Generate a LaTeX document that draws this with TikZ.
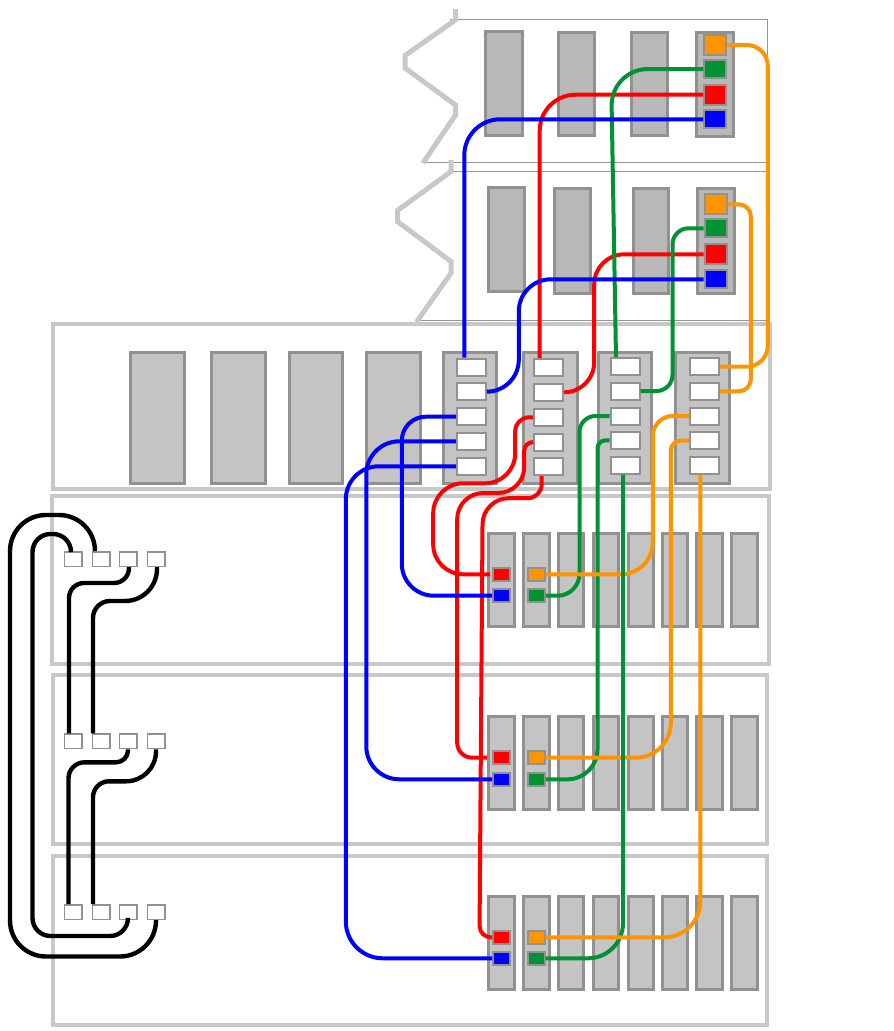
\documentclass[tikz,border=0pt]{standalone}
\usetikzlibrary{arrows.meta, positioning, calc}
\definecolor{panelgray}{RGB}{200,200,200}
\definecolor{edgegray}{RGB}{145,145,145}
\definecolor{slotdark}{RGB}{184,184,184}
\definecolor{slotlight}{RGB}{196,196,196}
\definecolor{hairgray}{RGB}{150,150,150}
\definecolor{wirered}{RGB}{255,0,0}
\definecolor{wireblue}{RGB}{0,0,255}
\definecolor{wiregreen}{RGB}{0,146,51}
\definecolor{wireorange}{RGB}{255,147,0}

\begin{document}
\begin{tikzpicture}[
    x=1pt, y=-1pt,
    panel/.style={rectangle, draw=panelgray, line width=4.5pt, inner sep=0pt},
    slotcard/.style={rectangle, draw=edgegray, fill=slotlight, line width=3pt, inner sep=0pt},
    topcard/.style={slotcard, fill=slotdark},
    whiteport/.style={rectangle, draw=edgegray, fill=white, line width=2pt, inner sep=0pt, minimum width=29pt, minimum height=17pt},
    jack/.style={rectangle, draw=edgegray, fill=white, line width=1.5pt, inner sep=0pt, minimum width=17.5pt, minimum height=14.5pt},
    bigport/.style={rectangle, draw=edgegray, line width=2pt, inner sep=0pt, minimum width=22pt},
    rowport/.style={rectangle, draw=edgegray, line width=2pt, inner sep=0pt, minimum width=17pt, minimum height=13.5pt},
    hair/.style={color=hairgray, line width=1pt},
    zigzag/.style={color=panelgray, line width=5pt},
    wire/.style={line width=4pt},
    redwire/.style={wire, color=wirered},
    bluewire/.style={wire, color=wireblue},
    greenwire/.style={wire, color=wiregreen},
    orangewire/.style={wire, color=wireorange},
    blackwire/.style={wire, line width=4.4pt, color=black}
]
\useasboundingbox (0,0) rectangle (894,1031);

% outlines of the two upper units
\draw[hair] (450,19.5) -- (767.5,19.5) -- (767.5,320.5) -- (416,320.5);
\draw[hair] (423,162.3) -- (767.5,162.3);
\draw[hair] (451,171.5) -- (767.5,171.5);
\draw[zigzag] (455.5,9) -- (455.5,20) -- (405,55.5) -- (405,68) -- (455.5,105) -- (455.5,115) -- (423,163);
\draw[zigzag] (451,160) -- (451,171.5) -- (397.5,210.5) -- (397.5,221.5) -- (451,261.5) -- (451,273) -- (416.5,322);

% panels
\node[panel, minimum width=717pt, minimum height=165pt] (panelmain) at (411.5,406.5) {};
\node[panel, minimum width=717pt, minimum height=168pt] (panelone) at (410.5,580) {};
\node[panel, minimum width=714pt, minimum height=169pt] (paneltwo) at (410,759.5) {};
\node[panel, minimum width=714pt, minimum height=169pt] (panelthree) at (410,940.5) {};

% cards of the upper units
\foreach \n/\x/\y/\w/\h in {ua/503.5/83/37/104, ub/576/84.4/36/103, uc/649/84.4/36/103, ud/714.5/84/37/104,
    va/506/239/36/104, vb/572/241.4/36/105, vc/650.5/241.4/35/105, vd/715.5/241.4/37/105} {
    \node[topcard, minimum width=\w pt, minimum height=\h pt] (card\n) at (\x,\y) {};
}
% cards of the main panel
\foreach \n/\x/\w in {a/157/54, b/238/54, c/315.5/53, d/393/54, e/469.5/53, f/550/54, g/624.5/53, h/702/54} {
    \node[slotcard, minimum width=\w pt, minimum height=131pt] (main\n) at (\x,417.5) {};
}
% cards of the lower rows
\foreach \r/\y in {1/580, 2/763.3, 3/943} {
    \foreach \s/\x/\w in {1/501.5/26.5, 2/536/26, 3/571/25.5, 4/606/25.5, 5/641/25.5, 6/675/25.5, 7/709.5/26.5, 8/744.5/26.5} {
        \node[slotcard, minimum width=\w pt, minimum height=93pt] (row\r card\s) at (\x,\y) {};
    }
}

% ports of the upper units
\foreach \n/\c/\y/\h in {orange/wireorange/45/20, green/wiregreen/69/18, red/wirered/94.7/20, blue/wireblue/119.3/18} {
    \node[bigport, fill=\c, minimum height=\h pt] (top\n) at (715,\y) {};
}
\foreach \n/\c/\y/\h in {orange/wireorange/204.3/20, green/wiregreen/228.3/18, red/wirered/254.3/20, blue/wireblue/279.3/18} {
    \node[bigport, fill=\c, minimum height=\h pt] (sec\n) at (715.5,\y) {};
}
% white ports of the main panel
\foreach \n/\x/\ya/\yb/\yc/\yd/\ye in {a/471.3/367/391.7/416.7/441.3/466.3, b/548.7/367.7/392.3/417.3/442/466.7,
    c/625/366.7/391/416/440.3/465, d/704.3/366.7/391.3/416/440.7/465.3} {
    \node[whiteport] (\n1) at (\x,\ya) {};
    \node[whiteport] (\n2) at (\x,\yb) {};
    \node[whiteport] (\n3) at (\x,\yc) {};
    \node[whiteport] (\n4) at (\x,\yd) {};
    \node[whiteport] (\n5) at (\x,\ye) {};
}
% ports of the lower rows
\foreach \r/\ya/\yb in {1/574.3/595.7, 2/757.7/779.3, 3/937.3/958.3} {
    \node[rowport, fill=wirered] (rowred\r) at (501.7,\ya) {};
    \node[rowport, fill=wireblue] (rowblue\r) at (501.7,\yb) {};
    \node[rowport, fill=wireorange] (roworange\r) at (536.2,\ya) {};
    \node[rowport, fill=wiregreen] (rowgreen\r) at (536.2,\yb) {};
}
% jacks on the left
\foreach \r/\y in {1/559, 2/741.3, 3/912} {
    \foreach \s/\x in {1/73, 2/101, 3/128, 4/156} {
        \node[jack] (jack\r\s) at (\x,\y) {};
    }
}

% black loops
\draw[blackwire, rounded corners=36pt] ([xshift=-6pt]jack12.north) -- ++(0,-36) -- ++(-85,0) -- ++(0,441.5) -| (jack34.south);
\draw[blackwire, rounded corners=18pt] ([xshift=-2pt]jack11.north) -- ++(0,-17) -- ++(-38.5,0) -- ++(0,402) -| (jack33.south);
\draw[blackwire] ([xshift=1pt]jack13.south) [rounded corners=15pt] -- ++(0,16) -| ([xshift=-4pt]jack21.north);
\draw[blackwire] ([xshift=1pt]jack14.south) [rounded corners=32pt] -- ++(0,34) [rounded corners=17pt] -| ([xshift=-8pt]jack22.north);
\draw[blackwire] (jack23.south) [rounded corners=12pt] -- ++(0,13) [rounded corners=16pt] -| ([xshift=-4.5pt]jack31.north);
\draw[blackwire] (jack24.south) [rounded corners=30pt] -- ++(0,32) [rounded corners=16pt] -| ([xshift=-8pt]jack32.north);

% red
\draw[redwire, rounded corners=36pt] (topred.west) -| ([xshift=-9pt]b1.north);
\draw[redwire, rounded corners=30pt] (secred.west) -| ([xshift=30pt]b2.east) [rounded corners=24pt] -- (b2.east);
\draw[redwire] (b3.west) [rounded corners=14pt] -- ++(-18,0) [rounded corners=30pt] -- ++(0,66) -- ++(-82,0) |- ([xshift=-2pt]rowred1.west);
\draw[redwire] (b4.west) [rounded corners=9pt] -- ++(-9,0) [rounded corners=26pt] -- ++(0,51) -- ++(-67,0) [rounded corners=15pt] |- ([xshift=-5pt]rowred2.west);
\draw[redwire] ([xshift=-7pt]b5.south) [rounded corners=14pt] -- ++(0,22) [rounded corners=26pt] -- ++(-59,0) [rounded corners=11pt] -- ++(-3,410) |- (rowred3.west);

% green
\draw[greenwire, rounded corners=37pt] (topgreen.west) -- ++(-92,0) -- ([xshift=-9pt]c1.north);
\draw[greenwire, rounded corners=16pt] (secgreen.west) -| ([xshift=32pt]c2.east) [rounded corners=20pt] -- (c2.east);
\draw[greenwire] (c3.west) [rounded corners=16pt] -- ++(-30,0) [rounded corners=22pt] |- (rowgreen1.east);
\draw[greenwire] (c4.west) [rounded corners=8pt] -- ++(-12,0) [rounded corners=30pt] |- (rowgreen2.east);

% blue
\draw[bluewire, rounded corners=36pt] (topblue.west) -| ([xshift=-7pt]a1.north);
\draw[bluewire, rounded corners=32pt] (secblue.west) -| ([xshift=32pt]a2.east) [rounded corners=20pt] -- (a2.east);
\draw[bluewire] (a3.west) [rounded corners=24pt] -- ++(-54,0) [rounded corners=32pt] |- (rowblue1.west);
\draw[bluewire, rounded corners=33pt] (a4.west) -- ++(-89.5,0) |- (rowblue2.west);
\draw[bluewire] (a5.west) [rounded corners=33pt] -- ++(-110,0) [rounded corners=37pt] |- (rowblue3.west);

% orange
\draw[orangewire] (toporange.east) [rounded corners=21pt] -| ([xshift=48pt]d1.east) [rounded corners=25pt] -- (d1.east);
\draw[orangewire] (secorange.east) [rounded corners=12pt] -| ([xshift=31pt]d2.east) [rounded corners=16pt] -- (d2.east);
\draw[orangewire] (d3.west) [rounded corners=20pt] -- ++(-36,0) [rounded corners=32pt] |- (roworange1.east);
\draw[orangewire] (d4.west) [rounded corners=10pt] -- ++(-18,0) [rounded corners=35pt] |- (roworange2.east);
\draw[greenwire, rounded corners=35pt] ([xshift=-2pt]c5.south) |- (rowgreen3.east);
\draw[orangewire, rounded corners=36pt] ([xshift=-4pt]d5.south) |- (roworange3.east);
\end{tikzpicture}
\end{document}
